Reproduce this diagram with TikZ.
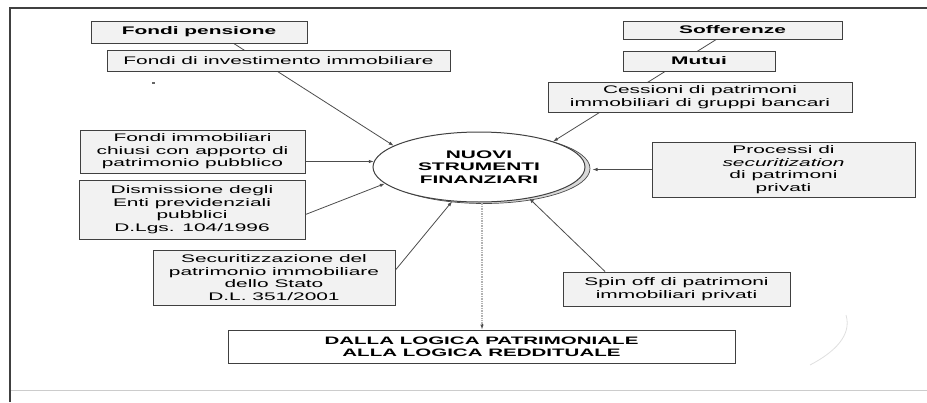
\documentclass[tikz,border=0pt]{standalone}
\usepackage{fontspec}
\setmainfont{Liberation Sans}[FakeStretch=1.9]
\usetikzlibrary{arrows.meta,shapes.geometric,calc}
\begin{document}
\begin{tikzpicture}[x=1pt,y=-1pt,
  box/.style={draw=black!75, line width=1pt, fill=gray!10, inner sep=0pt, align=center,
    font=\fontsize{11}{12.5}\selectfont},
  wbox/.style={box, fill=white},
  arr/.style={draw=black!70, line width=0.8pt, -{Latex[length=5pt,width=3.5pt]}},
  frame/.style={draw=black!75, line width=1.2pt}]
\useasboundingbox (0,0) rectangle (927,402);
% frame
\draw[frame] (10,402) -- (10,8) -- (927,8);
\draw[draw=gray!40, line width=1pt] (11,390) -- (927,390);
% faint artefacts
\draw[gray!25, line width=0.8pt] (810,365) .. controls (835,352) and (852,335) .. (846,315);
\fill[black!60] (152,82) rectangle (155,83.5);
% central ellipse with shadow
\node[ellipse, draw=black!70, line width=0.7pt, fill=gray!30, minimum width=212pt, minimum height=70pt, inner sep=0pt] (shadow) at (484,168.5) {};
\node[ellipse, draw=black!75, line width=1pt, fill=white, minimum width=212pt, minimum height=70pt, inner sep=0pt, align=center, font=\fontsize{11}{12.5}\selectfont\bfseries] (nuovi) at (479,167) {NUOVI\\STRUMENTI\\FINANZIARI};
% connectors drawn below boxes
\coordinate (fpout) at (233,43);
\coordinate (sofout) at (717,39);
\draw[arr] (fpout) -- (nuovi.166);
\draw[arr] (sofout) -- (nuovi.19);
% boxes
\node[box, minimum width=216pt, minimum height=22pt] (fp) at (199,32) {\textbf{Fondi pensione}};
\node[box, minimum width=343pt, minimum height=21pt] (fii) at (278.5,60.5) {Fondi di investimento immobiliare};
\node[box, minimum width=225pt, minimum height=43pt] (fic) at (192.5,151.5) {Fondi immobiliari\\chiusi con apporto di\\patrimonio pubblico};
\node[box, minimum width=226pt, minimum height=59pt] (dis) at (192,209.5) {Dismissione degli\\Enti previdenziali\\pubblici\\D.Lgs. 104/1996};
\node[box, minimum width=242pt, minimum height=55pt] (sec) at (274,277.5) {Securitizzazione del\\patrimonio immobiliare\\dello Stato\\D.L. 351/2001};
\node[box, minimum width=219pt, minimum height=18pt] (sof) at (732.5,30) {\textbf{Sofferenze}};
\node[box, minimum width=152pt, minimum height=20pt] (mut) at (699,61) {\textbf{Mutui}};
\node[box, minimum width=304pt, minimum height=30pt] (ces) at (700,97) {Cessioni di patrimoni\\immobiliari di gruppi bancari};
\node[box, minimum width=263pt, minimum height=55pt] (pro) at (783.5,169.5) {Processi di\\\textit{securitization}\\di patrimoni\\privati};
\node[box, minimum width=227pt, minimum height=34pt] (spin) at (676.5,289) {Spin off di patrimoni\\immobiliari privati};
\node[wbox, minimum width=507pt, minimum height=33pt, font=\fontsize{10.8}{12}\selectfont\bfseries] (dalla) at (481.5,346.5) {DALLA LOGICA PATRIMONIALE\\ALLA LOGICA REDDITUALE};
% other connectors
\draw[arr] ([yshift=-10pt]fic.east) -- (nuovi.177);
\draw[arr] ([yshift=-5pt]dis.east) -- (nuovi.190);
\draw[arr] ([yshift=7.5pt]sec.east) -- (nuovi.232);
\draw[arr] (pro.west) -- ([xshift=7pt]nuovi.east |- pro.west);
\draw[arr] ([xshift=-71.5pt]spin.north) -- (nuovi.328);
\draw[draw=gray!60, line width=2pt, dash pattern=on 1pt off 0.7pt] ([xshift=3pt]nuovi.south) -- ([xshift=0.5pt,yshift=5pt]dalla.north);
\draw[arr, draw=black!70] ([xshift=0.5pt,yshift=6pt]dalla.north) -- ([xshift=0.5pt]dalla.north);
\end{tikzpicture}
\end{document}
